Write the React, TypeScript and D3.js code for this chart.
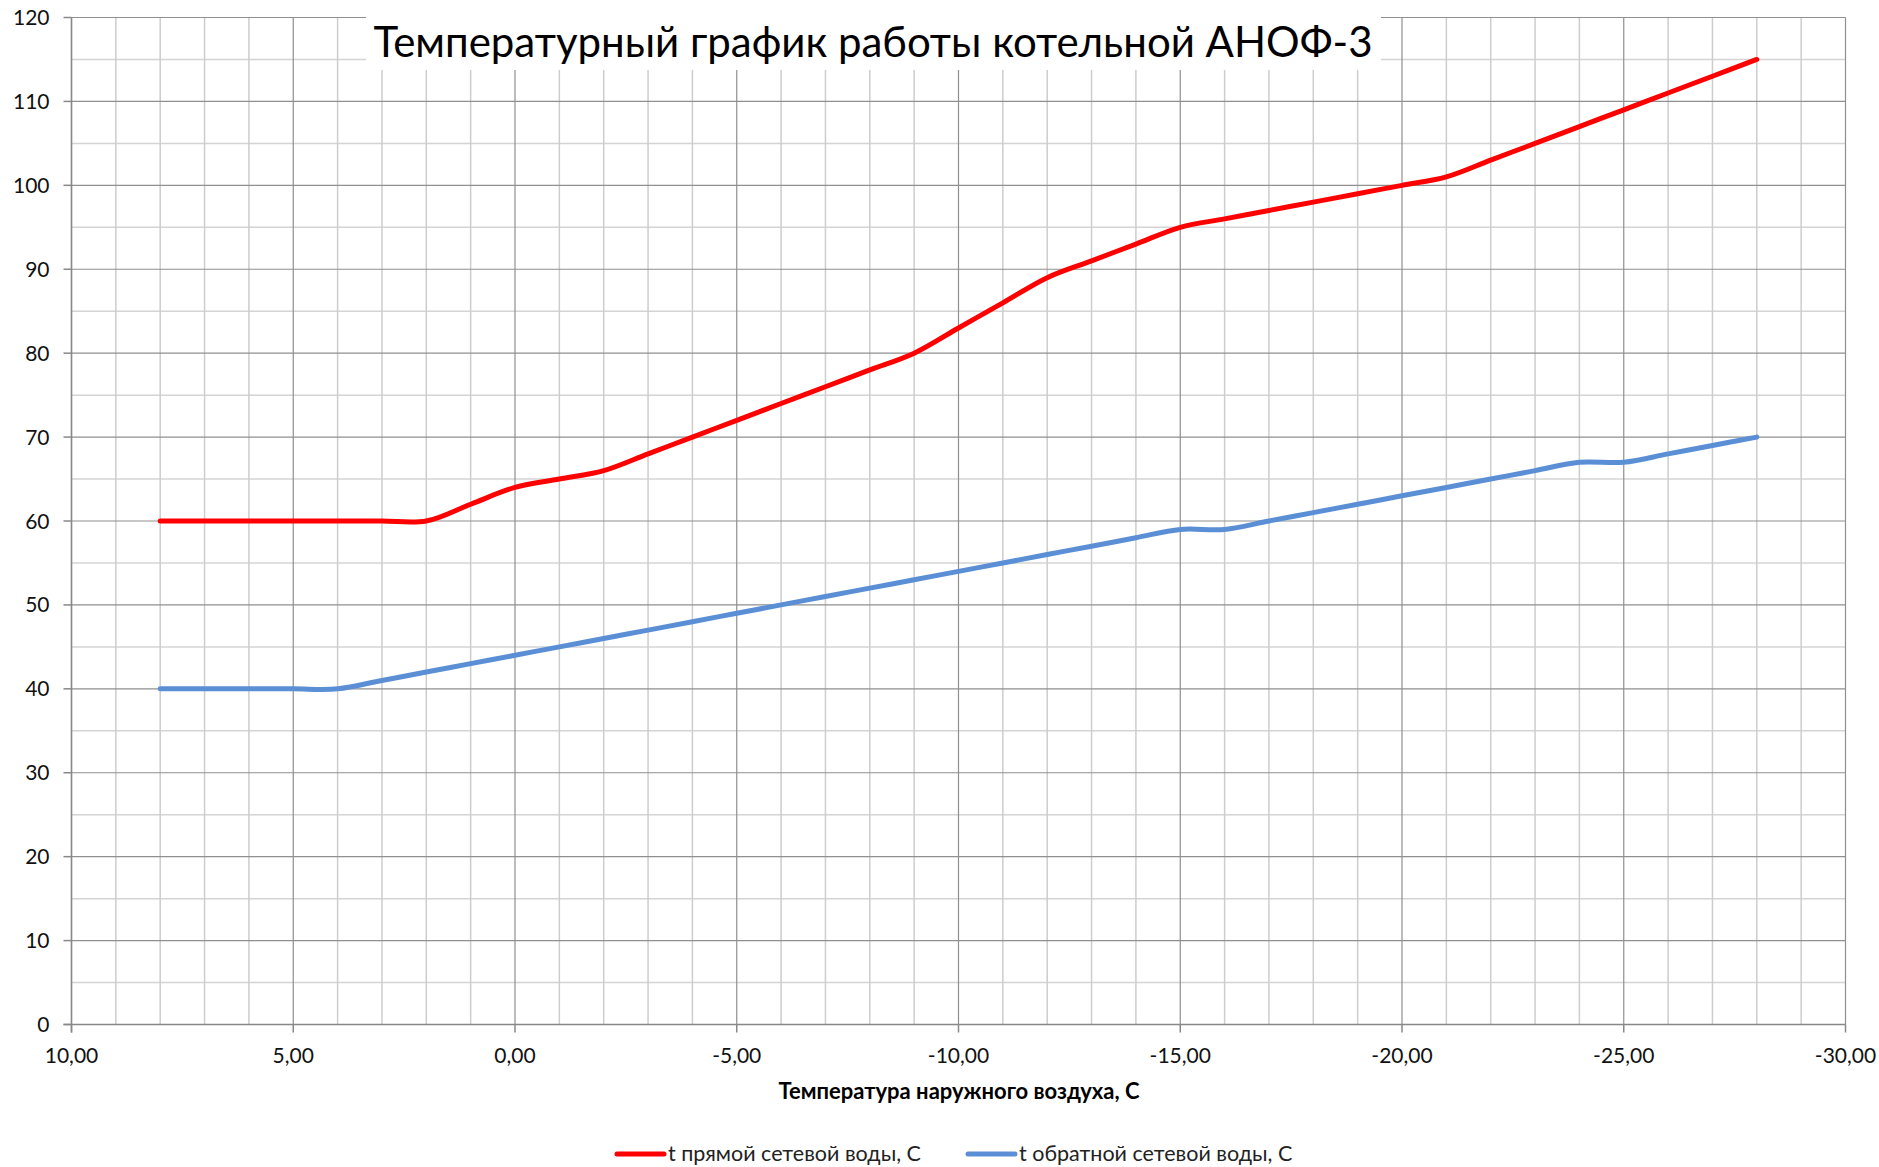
import React from "react"
import * as d3 from "d3"

// outdoor air temperature, C (one point per degree)
const outdoorTemp = [8, 7, 6, 5, 4, 3, 2, 1, 0, -1, -2, -3, -4, -5, -6, -7, -8, -9, -10, -11, -12, -13, -14, -15, -16, -17, -18, -19, -20, -21, -22, -23, -24, -25, -26, -27, -28]
// supply water temperature
const supplyTemp = [60, 60, 60, 60, 60, 60, 60, 62, 64, 65, 66, 68, 70, 72, 74, 76, 78, 80, 83, 86, 89, 91, 93, 95, 96, 97, 98, 99, 100, 101, 103, 105, 107, 109, 111, 113, 115]
// return water temperature
const returnTemp = [40, 40, 40, 40, 40, 41, 42, 43, 44, 45, 46, 47, 48, 49, 50, 51, 52, 53, 54, 55, 56, 57, 58, 59, 59, 60, 61, 62, 63, 64, 65, 66, 67, 67, 68, 69, 70]

const seriesNames = ["t прямой сетевой воды, С", "t обратной сетевой воды, С"]
const seriesColors = ["#ff0000", "#5a8fd6"]
const chartTitle = "Температурный график работы котельной АНОФ-3"
const xTitle = "Температура наружного воздуха, С"

const yTicks = d3.range(0, 121, 10)
const xTicks = d3.range(10, -31, -5)

const W = 1879
const H = 1167
const font = "Lato, 'Open Sans', sans-serif"

const App = () => {
    const left = 71.5, right = 1845.5, top = 17.5, bottom = 1024.5

    const x = d3.scaleLinear().domain([10, -30]).range([left, right])
    const y = d3.scaleLinear().domain([0, 120]).range([bottom, top])

    const fmtX = (v: number) => d3.format(".2f")(v).replace(".", ",").replace("−", "-")

    const line = d3.line<[number, number]>()
        .x(d => x(d[0]))
        .y(d => y(d[1]))
        .curve(d3.curveCatmullRom.alpha(0.5))

    const series = [supplyTemp, returnTemp].map(vals =>
        outdoorTemp.map((t, i) => [t, vals[i]] as [number, number]))

    const minorX = d3.range(10, -31, -1)
    const minorY = d3.range(0, 121, 5)

    return (
        <svg width={W} height={H} style={{display: "block", position: "absolute", left: 0, top: 0}}
             fontFamily={font}>
            <rect width={W} height={H} fill="#fff"/>

            {/* minor grid */}
            {minorY.filter(v => v % 10 !== 0).map(v => (
                <line key={"my" + v} x1={left} x2={right} y1={y(v)} y2={y(v)} stroke="#d4d4d4" strokeWidth={1.5}/>
            ))}
            {minorX.filter(v => v % 5 !== 0).map(v => (
                <line key={"mx" + v} x1={x(v)} x2={x(v)} y1={top} y2={bottom} stroke="#cdcdcd" strokeWidth={1.5}/>
            ))}
            {/* major grid */}
            {yTicks.map(v => (
                <line key={"gy" + v} x1={left} x2={right} y1={y(v)} y2={y(v)} stroke="#8f8f8f" strokeWidth={1.2}/>
            ))}
            {xTicks.map(v => (
                <line key={"gx" + v} x1={x(v)} x2={x(v)} y1={top} y2={bottom} stroke="#8f8f8f" strokeWidth={1.2}/>
            ))}

            {/* axes */}
            <line x1={left} x2={left} y1={top} y2={bottom + 8} stroke="#888" strokeWidth={1.5}/>
            <line x1={left - 8} x2={right} y1={bottom} y2={bottom} stroke="#888" strokeWidth={1.5}/>
            {yTicks.map(v => (
                <g key={"ty" + v}>
                    <line x1={left - 8} x2={left} y1={y(v)} y2={y(v)} stroke="#888" strokeWidth={1.5}/>
                    <text x={left - 22} y={y(v)} dy="0.36em" textAnchor="end" fontSize={21} fill="#111">{v}</text>
                </g>
            ))}
            {xTicks.map(v => (
                <g key={"tx" + v}>
                    <line x1={x(v)} x2={x(v)} y1={bottom} y2={bottom + 8} stroke="#888" strokeWidth={1.5}/>
                    <text x={x(v)} y={bottom + 38} textAnchor="middle" fontSize={21} fill="#111">{fmtX(v)}</text>
                </g>
            ))}

            {/* title box */}
            <rect x={366} y={0} width={1015} height={70} fill="#fff"/>
            <text x={873} y={57} textAnchor="middle" fontSize={42} fill="#000">{chartTitle}</text>

            {/* series */}
            {series.map((s, i) => (
                <path key={"s" + i} d={line(s) || ""} fill="none" stroke={seriesColors[i]} strokeWidth={5}
                      strokeLinecap="round" strokeLinejoin="round"/>
            ))}

            {/* x axis title */}
            <text x={959} y={1099} textAnchor="middle" fontSize={22} fontWeight="bold" fill="#000">{xTitle}</text>

            {/* legend */}
            {seriesNames.map((n, i) => {
                const lx = i === 0 ? 617 : 968
                return (
                    <g key={"lg" + i}>
                        <line x1={lx} x2={lx + 47} y1={1154} y2={1154} stroke={seriesColors[i]} strokeWidth={5}
                              strokeLinecap="round"/>
                        <text x={lx + 51} y={1161} fontSize={21.5} fill="#222">{n}</text>
                    </g>
                )
            })}
        </svg>
    )
}

export default App
